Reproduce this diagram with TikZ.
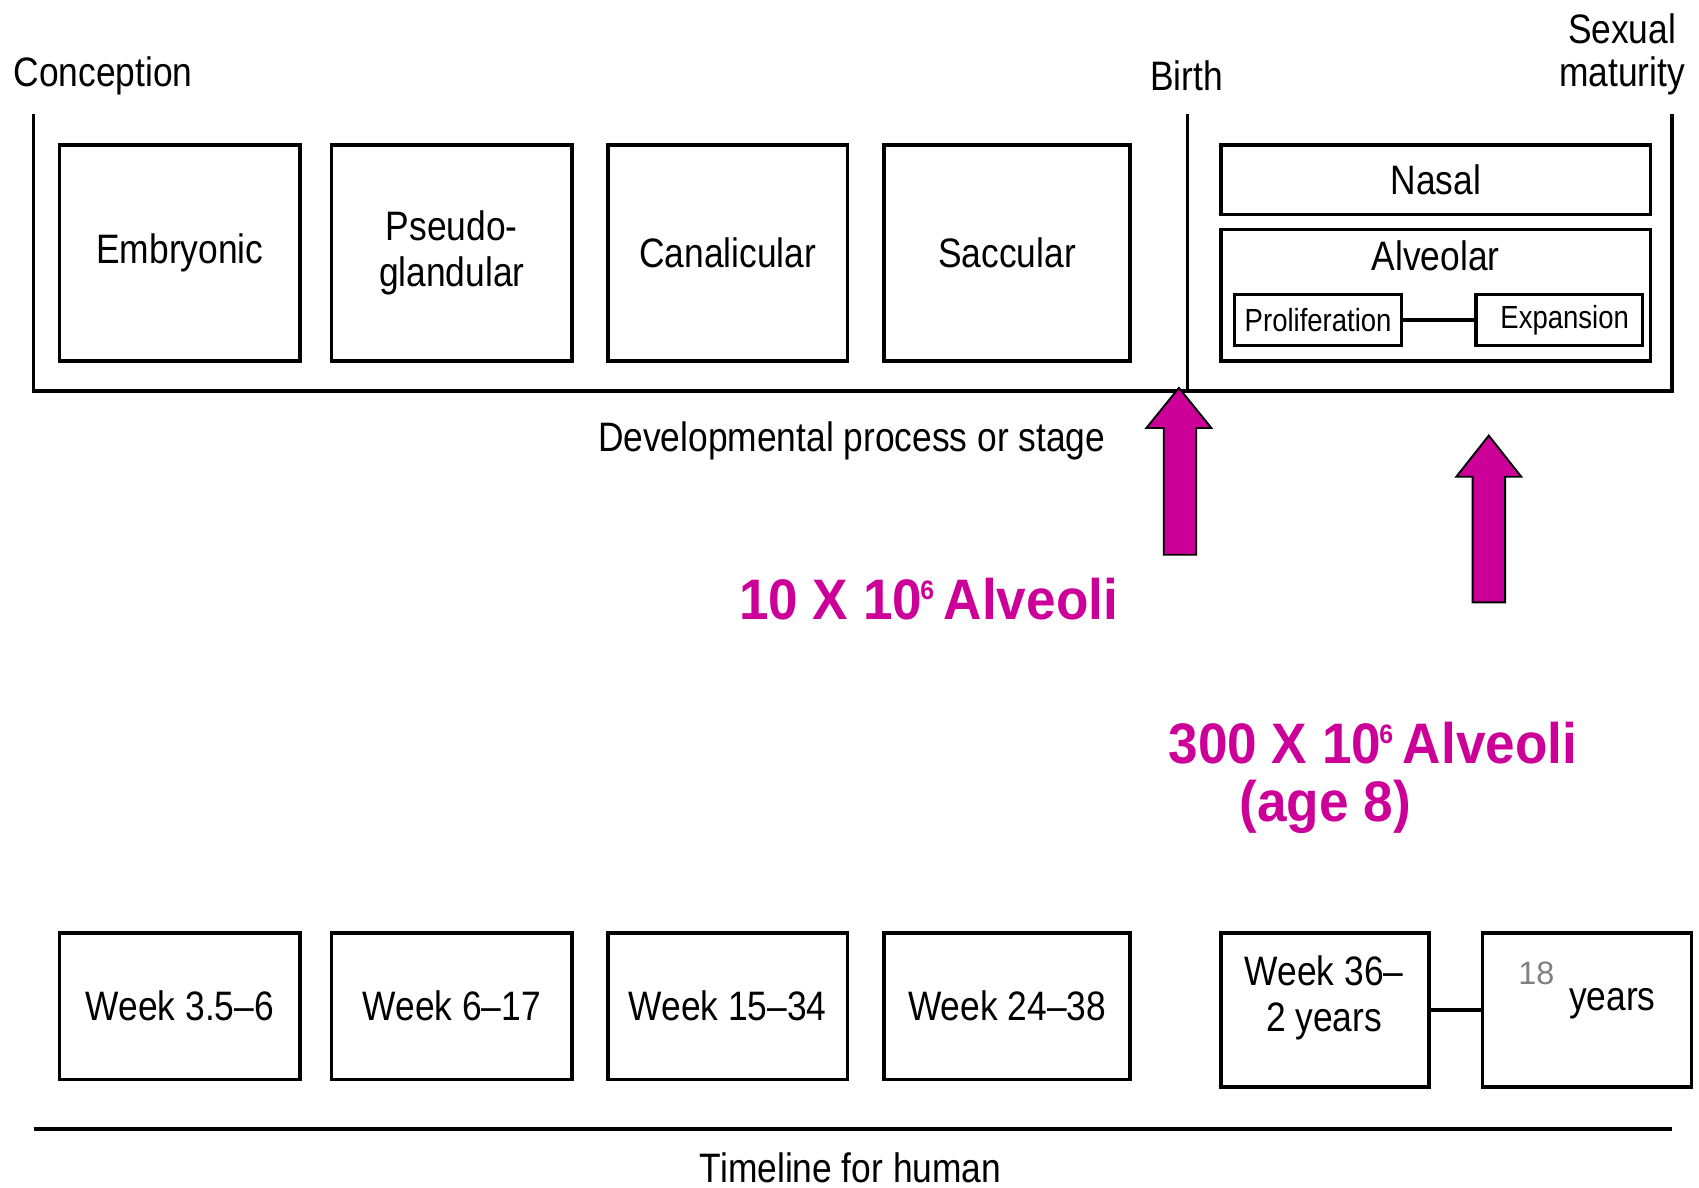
\documentclass[tikz,border=0pt]{standalone}
\usepackage{fontspec}
\setmainfont{Liberation Sans}[FakeStretch=0.86]
\newfontfamily\alvfont{Liberation Sans}[FakeStretch=0.93]
\newfontfamily\plainfont{Liberation Sans}
\definecolor{alvmagenta}{RGB}{204,0,153}
\newcommand{\tenpow}{10\textsuperscript{\kern-0.05em\scriptsize 6}\kern-0.12em}
\tikzset{
  stagebox/.style={draw, line width=0.9pt, minimum width=22.2mm, minimum height=19.9mm, inner sep=0pt, align=center, font=\fontsize{10.8}{12}\selectfont},
  weekbox/.style={stagebox, minimum height=13.5mm},
  smallbox/.style={draw, line width=0.9pt, minimum width=15.4mm, minimum height=4.7mm, inner sep=0pt, font=\fontsize{8.4}{10}\selectfont},
  label/.style={align=center, font=\fontsize{10.8}{12}\selectfont},
  alvtext/.style={text=alvmagenta, font=\alvfont\bfseries\fontsize{15}{18}\selectfont},
  alvarrow/.style={fill=alvmagenta, draw=black, line width=0.5pt}
}
\begin{document}
\begin{tikzpicture}[x=0.1mm, y=-0.1mm]
\useasboundingbox (0,0) rectangle (1568,1096);

% Landmarks
\node[label] (conception) at (95,70) {Conception};
\node[label] (birth) at (1095,70) {Birth};
\node[label, font=\fontsize{10.8}{11.3}\selectfont] (maturity) at (1497,50) {Sexual\\maturity};

% Frame of the stages
\draw[line width=0.9pt] (31,105) -- (31,361) -- (1543,361) -- (1543,105);
\draw[line width=0.9pt] (1096,105) -- (1096,361);

% Prenatal stages
\node[stagebox] (embryonic) at (166,233.5) {Embryonic};
\node[stagebox] (pseudo) at (417,233.5) {\raisebox{0pt}{Pseudo-}\\glandular};
\node[stagebox, minimum width=22.1mm] (canalicular) at (671.5,233.5) {Canalicular};
\node[stagebox, minimum width=22.7mm] (saccular) at (929.5,233.5) {Saccular};

% Postnatal stages
\node[stagebox, minimum width=39.6mm, minimum height=6.4mm] (nasal) at (1325,166) {Nasal};
\node[stagebox, minimum width=39.6mm, minimum height=12.1mm] (alveolar) at (1325,272.5) {};
\node[label] (alvlabel) at (1325,236) {Alveolar};
\node[smallbox] (prolif) at (1216.5,295.5) {Proliferation};
\node[smallbox] (expan) at (1439,295.5) {\hspace{1mm}Expansion};
\draw[line width=0.9pt] (prolif) -- (expan);

\node[label] (process) at (786,407) {Developmental process or stage};

% Alveoli counts
\filldraw[alvarrow] (1074,512) -- (1074,395) -- (1058,395) -- (1088,358) -- (1118,395) -- (1104,395) -- (1104,512) -- cycle;
\filldraw[alvarrow] (1359,556) -- (1359,440) -- (1344,440) -- (1374,402) -- (1404,440) -- (1389,440) -- (1389,556) -- cycle;
\node[alvtext] (birthcount) at (857,553) {10 X \tenpow{} Alveoli};
\node[alvtext] (adultcount) at (1267,686) {300 X \tenpow{} Alveoli};
\node[alvtext] (age) at (1223,745) {(age 8)};

% Timeline
\node[weekbox] (w1) at (166,928.5) {Week 3.5--6};
\node[weekbox] (w2) at (417,928.5) {Week 6--17};
\node[weekbox, minimum width=22.1mm] (w3) at (671.5,928.5) {Week 15--34};
\node[weekbox, minimum width=22.7mm] (w4) at (929.5,928.5) {Week 24--38};
\node[weekbox, minimum width=19.2mm, minimum height=14.2mm] (w5) at (1223,932) {};
\node[label] (w5text) at (1222,921) {Week 36--\\2 years};
\node[weekbox, minimum width=19.3mm, minimum height=14.2mm] (w6) at (1464.5,932) {};
\node[text=gray, font=\plainfont\fontsize{8.5}{10}\selectfont] (eighteen) at (1418,898) {18};
\node[label] (yearstext) at (1488,926) {years};
\draw[line width=0.9pt] (w5) -- (w6);

\draw[line width=0.9pt] (31,1042) -- (1543,1042);
\node[label] (timeline) at (785,1078) {Timeline for human};
\end{tikzpicture}
\end{document}
